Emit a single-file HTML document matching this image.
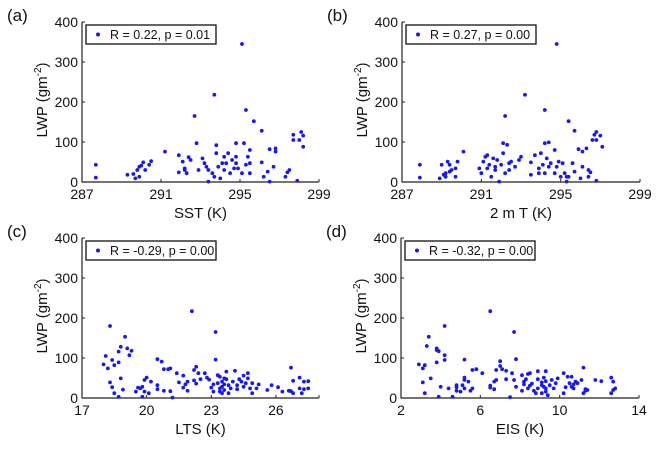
<!DOCTYPE html>
<html><head><meta charset="utf-8"><style>
body{margin:0;background:#fff;width:659px;height:449px;overflow:hidden;font-family:"Liberation Sans",Arial,sans-serif}
svg text{font-family:"Liberation Sans",Arial,sans-serif;fill:#111}
</style></head><body>
<svg id="c" width="659" height="449" xmlns="http://www.w3.org/2000/svg"></svg>
<script>
const aX=[287.7,287.7,289.3,289.6,289.7,289.8,289.9,289.9,290.0,290.1,290.2,290.4,290.5,291.2,291.9,291.9,292.1,292.2,292.2,292.3,292.4,292.5,292.7,292.8,292.9,293.1,293.2,293.3,293.4,293.4,293.6,293.7,293.7,293.8,293.8,293.9,294.0,294.1,294.2,294.2,294.3,294.4,294.5,294.6,294.7,294.8,294.8,294.8,294.9,295.1,295.1,295.2,295.3,295.3,295.4,295.5,295.5,295.5,295.7,296.1,296.1,296.2,296.4,296.5,296.5,296.7,296.8,296.8,297.3,297.4,297.5,297.7,297.7,297.9,298.0,298.1,298.2,298.2];
const aY=[43,11,18,20,9,30,38,13,41,49,30,43,52,76,67,24,51,30,34,22,62,55,165,97,30,59,47,38,30,1,22,218,13,72,92,38,9,47,63,30,47,72,22,55,34,63,47,97,34,345,22,97,180,43,63,47,22,80,152,128,49,13,26,1,82,38,76,84,13,24,30,105,118,3,105,125,116,88];
const bX=[287.9,287.9,288.9,289.0,289.1,289.2,289.2,289.3,289.4,289.4,289.5,289.7,289.8,289.7,290.1,290.9,291.0,291.1,291.2,291.3,291.3,291.4,291.5,291.6,291.7,291.7,291.8,291.9,292.0,292.1,292.1,292.2,292.2,292.3,292.4,292.4,292.5,292.7,292.9,293.0,293.2,293.5,293.5,293.7,293.9,293.9,294.0,294.1,294.2,294.2,294.2,294.3,294.4,294.4,294.5,294.7,294.7,294.8,294.8,294.9,295.0,295.1,295.2,295.3,295.3,295.4,295.4,295.6,295.7,295.7,295.9,296.0,296.1,296.1,296.3,296.4,296.4,296.5,296.6,296.7,296.8,296.8,296.8,297.0,297.1];
const bY=[43,11,9,43,18,22,13,51,26,43,30,13,51,34,76,34,22,51,63,34,67,43,13,59,38,30,55,1,43,72,97,22,165,93,47,30,51,38,55,63,218,49,18,67,34,22,72,43,180,97,22,59,99,38,47,22,80,345,38,51,13,47,22,13,1,13,152,47,128,26,82,9,76,38,84,13,30,24,105,118,125,3,105,116,88];
const cX=[18.0,18.1,18.2,18.3,18.3,18.4,18.4,18.5,18.5,18.7,18.7,18.7,18.8,18.8,18.9,19.0,19.1,19.2,19.3,19.5,19.6,19.7,19.8,19.8,19.9,19.9,20.0,20.1,20.2,20.5,20.5,20.5,20.7,20.8,20.8,21.0,21.1,21.1,21.2,21.4,21.5,21.7,21.7,21.8,21.9,21.9,22.1,22.2,22.2,22.3,22.3,22.4,22.5,22.7,22.8,22.9,23.0,23.1,23.1,23.2,23.2,23.3,23.3,23.4,23.4,23.4,23.5,23.5,23.5,23.6,23.6,23.6,23.7,23.7,23.8,23.8,23.9,24.0,24.1,24.2,24.2,24.3,24.4,24.5,24.5,24.6,24.7,24.7,24.8,24.9,24.9,25.1,25.2,25.6,25.8,26.1,26.3,26.6,26.7,26.7,26.8,26.8,27.1,27.1,27.2,27.3,27.3,27.5,27.5];
const cY=[84,105,74,39,180,27,95,12,82,89,3,116,128,49,21,153,124,107,118,16,26,24,3,28,45,16,51,12,41,22,32,97,91,72,18,72,17,74,1,62,39,56,26,34,18,41,217,70,44,78,36,62,47,62,51,46,26,34,16,96,165,37,57,53,16,24,41,12,28,49,20,34,47,66,32,12,24,41,68,22,32,47,41,56,28,37,62,49,24,12,37,24,34,20,32,27,16,18,17,76,43,12,24,51,12,41,22,42,24];
const dX=[2.9,3.1,3.2,3.1,3.2,3.3,3.4,3.5,3.8,3.8,3.8,3.9,3.9,4.0,4.2,4.2,4.2,4.4,4.6,4.8,4.8,4.8,5.0,5.1,5.2,5.2,5.2,5.2,5.4,5.5,5.6,5.6,5.8,6.1,6.5,6.5,6.5,6.7,6.7,6.8,6.8,7.0,7.0,7.1,7.3,7.3,7.5,7.6,7.7,7.7,7.8,7.8,8.1,8.1,8.2,8.2,8.3,8.4,8.4,8.5,8.5,8.6,8.7,8.8,8.9,8.9,8.9,9.1,9.1,9.1,9.2,9.2,9.3,9.3,9.3,9.3,9.4,9.5,9.6,9.7,9.8,9.9,10.2,10.2,10.3,10.4,10.5,10.6,10.6,10.7,10.7,10.8,10.9,11.1,11.2,11.2,11.3,11.3,11.4,11.8,12.1,12.6,12.6,12.7,12.7,12.8];
const dY=[84,74,82,39,12,130,153,49,124,120,89,3,117,28,107,180,95,24,3,27,18,32,16,32,45,51,96,24,41,18,70,24,72,62,26,217,31,22,41,45,70,92,80,72,47,68,2,62,45,165,97,28,57,18,41,34,47,60,24,31,62,36,18,12,24,47,67,32,12,39,51,28,42,24,16,67,7,32,45,24,37,49,12,62,27,53,37,53,28,34,24,41,37,45,12,76,18,22,20,45,42,51,12,41,20,24];
const panels=[
 {id:'a',xs:aX,ys:aY,L:82,R:319,T:22,B:182,xmin:287,xmax:299,xt:[287,291,295,299],xl:'SST (K)',leg:'R = 0.22, p = 0.01'},
 {id:'b',xs:bX,ys:bY,L:402,R:640,T:22,B:182,xmin:287,xmax:299,xt:[287,291,295,299],xl:'2 m T (K)',leg:'R = 0.27, p = 0.00'},
 {id:'c',xs:cX,ys:cY,L:82,R:319,T:238,B:398,xmin:17,xmax:28,xt:[17,20,23,26],xl:'LTS (K)',leg:'R = -0.29, p = 0.00'},
 {id:'d',xs:dX,ys:dY,L:401,R:639,T:238,B:398,xmin:2,xmax:14,xt:[2,6,10,14],xl:'EIS (K)',leg:'R = -0.32, p = 0.00'}];
const yTicks=[0,100,200,300,400];
const NS='http://www.w3.org/2000/svg',svg=document.getElementById('c');
function mk(t,a,p){const e=document.createElementNS(NS,t);for(const k in a)e.setAttribute(k,a[k]);(p||svg).appendChild(e);return e;}
panels.forEach(p=>{
 const g=mk('g',{});
 
 
 const sx=v=>p.L+(v-p.xmin)/(p.xmax-p.xmin)*(p.R-p.L);
 const sy=v=>p.B-v/400*(p.B-p.T);
 const lab=mk('text',{x:p.L-75,y:p.T-1,'font-size':17},g);lab.textContent='('+p.id+')';
 
 
 const ax=mk('path',{d:`M${p.L},${p.T}V${p.B}H${p.R}`,stroke:'#222','stroke-width':1.2,fill:'none'},g);
 
 
 yTicks.forEach(v=>{const y=sy(v);mk('line',{x1:p.L,x2:p.L+3,y1:y,y2:y,stroke:'#222'},g);
  const t=mk('text',{x:p.L-4,y:y+5,'font-size':14,'text-anchor':'end'},g);t.textContent=v;
  
  });
 p.xt.concat([p.xmax]).forEach((v,i)=>{const x=sx(v);mk('line',{x1:x,x2:x,y1:p.B,y2:p.B-3,stroke:'#222'},g);
  if(i<p.xt.length){const t=mk('text',{x:x,y:p.B+17,'font-size':14,'text-anchor':'middle'},g);t.textContent=v;
  
  }});
 const xt=mk('text',{x:(p.L+p.R)/2,y:p.B+36,'font-size':15,'text-anchor':'middle'},g);xt.textContent=p.xl;
 
 
 const yc=(p.T+p.B)/2-2;
 const yt=mk('text',{x:p.L-35,y:yc,'font-size':15,'text-anchor':'middle',transform:`rotate(-90 ${p.L-35} ${yc})`},g);
 yt.innerHTML='LWP (gm<tspan font-size="10" dy="-6">-2</tspan><tspan dy="6">)</tspan>';
 
 
 p.xs.forEach((v,i)=>{const c=mk('circle',{cx:sx(v),cy:sy(p.ys[i]),r:1.9,fill:'#1a1ae6'},g);
  
  });
 const lg=mk('g',{},g);
 
 
 mk('rect',{x:p.L+4,y:p.T+3,width:130,height:19,fill:'#fff',stroke:'#111','stroke-width':1.3},lg);
 mk('circle',{cx:p.L+16,cy:p.T+12.5,r:2,fill:'#1a1ae6'},lg);
 const lt=mk('text',{x:p.L+28,y:p.T+17,'font-size':12.5},lg);lt.textContent=p.leg;
 
 
});
</script>
</body></html>
